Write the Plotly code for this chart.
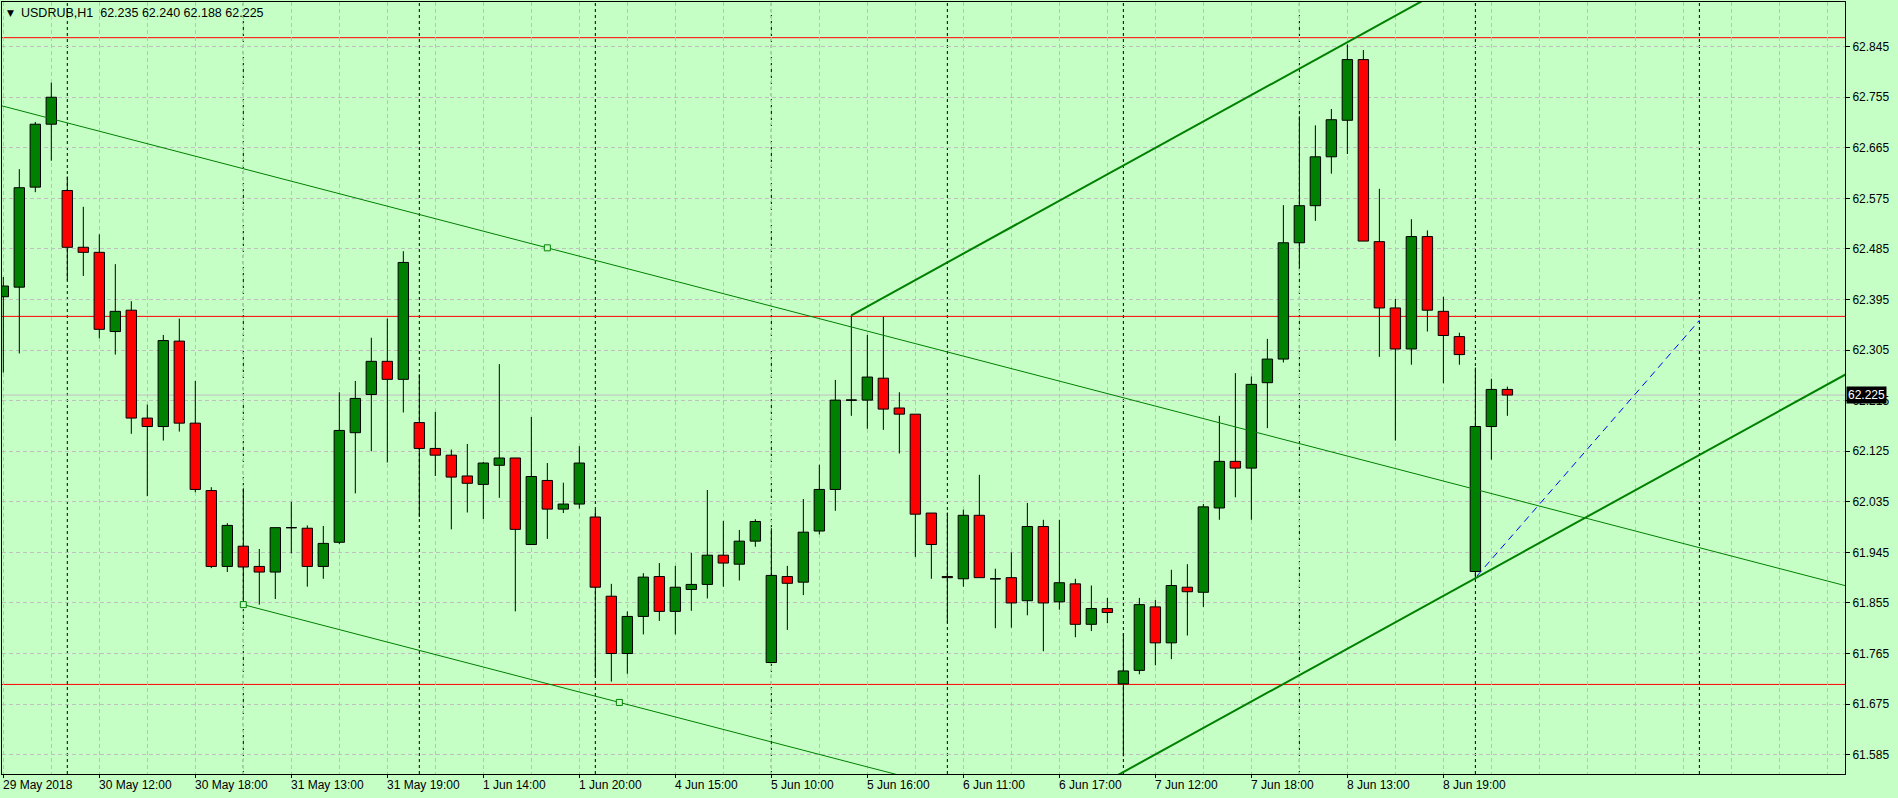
import plotly.graph_objects as go

# ---------------- data (bar index = trading hour on the chart) ----------------
bars = list(range(95))
opens = [62.400, 62.417, 62.595, 62.707, 62.589, 62.488, 62.479, 62.338, 62.376, 62.184,
         62.169, 62.321, 62.175, 62.055, 61.920, 61.956, 61.920, 61.910, 61.989, 61.988,
         61.920, 61.963, 62.158, 62.226, 62.285, 62.253, 62.176, 62.130, 62.118, 62.081,
         62.066, 62.100, 62.113, 61.959, 62.073, 62.022, 62.031, 62.008, 61.867, 61.765,
         61.831, 61.902, 61.840, 61.879, 61.888, 61.940, 61.924, 61.965, 61.749, 61.902,
         61.892, 61.983, 62.057, 62.216, 62.216, 62.255, 62.202, 62.191, 62.015, 61.902,
         61.898, 62.011, 61.898, 61.900, 61.859, 61.991, 61.857, 61.889, 61.817, 61.845,
         61.711, 61.735, 61.848, 61.784, 61.883, 61.874, 62.024, 62.107, 62.095, 62.247,
         62.289, 62.496, 62.562, 62.649, 62.714, 62.822, 62.498, 62.380, 62.307, 62.507,
         62.374, 62.329, 61.911, 62.169, 62.235]
highs = [62.435, 62.627, 62.711, 62.781, 62.614, 62.560, 62.511, 62.458, 62.392, 62.208,
         62.332, 62.361, 62.250, 62.061, 61.997, 62.059, 61.951, 61.989, 62.035, 61.993,
         61.992, 62.230, 62.250, 62.327, 62.361, 62.481, 62.262, 62.195, 62.128, 62.138,
         62.106, 62.280, 62.113, 62.186, 62.104, 62.069, 62.134, 62.021, 61.889, 61.840,
         61.908, 61.926, 61.921, 61.944, 62.056, 62.001, 61.985, 62.004, 61.988, 61.921,
         62.040, 62.101, 62.252, 62.367, 62.332, 62.364, 62.230, 62.191, 62.015, 62.016,
         62.021, 62.083, 61.916, 61.945, 62.033, 62.003, 62.003, 61.898, 61.886, 61.864,
         61.801, 61.864, 61.860, 61.914, 61.924, 62.031, 62.188, 62.264, 62.258, 62.325,
         62.563, 62.721, 62.705, 62.734, 62.849, 62.839, 62.592, 62.396, 62.538, 62.518,
         62.400, 62.336, 62.274, 62.254, 62.240]
lows = [62.265, 62.299, 62.586, 62.642, 62.429, 62.437, 62.326, 62.297, 62.156, 62.045,
        62.144, 62.160, 62.052, 61.917, 61.910, 61.852, 61.852, 61.862, 61.943, 61.884,
        61.898, 61.960, 62.050, 62.125, 62.105, 62.194, 62.008, 62.081, 61.986, 62.016,
        62.004, 62.042, 61.840, 61.959, 61.969, 62.015, 62.023, 61.724, 61.715, 61.729,
        61.799, 61.823, 61.799, 61.841, 61.863, 61.884, 61.895, 61.955, 61.748, 61.807,
        61.869, 61.977, 62.019, 62.188, 62.165, 62.163, 62.121, 61.937, 61.898, 61.820,
        61.884, 61.900, 61.810, 61.811, 61.833, 61.769, 61.843, 61.794, 61.805, 61.819,
        61.582, 61.728, 61.744, 61.755, 61.797, 61.848, 62.003, 62.043, 62.003, 62.166,
        62.283, 62.450, 62.535, 62.619, 62.654, 62.499, 62.293, 62.144, 62.279, 62.338,
        62.246, 62.279, 61.899, 62.110, 62.188]
closes = [62.419, 62.594, 62.707, 62.755, 62.488, 62.479, 62.342, 62.374, 62.184, 62.169,
          62.322, 62.175, 62.057, 61.920, 61.993, 61.919, 61.910, 61.989, 61.989, 61.920,
          61.961, 62.162, 62.219, 62.285, 62.253, 62.461, 62.130, 62.118, 62.079, 62.068,
          62.104, 62.113, 61.986, 62.080, 62.022, 62.031, 62.104, 61.883, 61.765, 61.831,
          61.901, 61.840, 61.883, 61.888, 61.940, 61.926, 61.965, 62.000, 61.904, 61.890,
          61.981, 62.057, 62.216, 62.216, 62.257, 62.200, 62.191, 62.013, 61.959, 61.900,
          62.011, 61.900, 61.898, 61.855, 61.991, 61.855, 61.891, 61.817, 61.845, 61.838,
          61.734, 61.852, 61.784, 61.886, 61.875, 62.026, 62.107, 62.095, 62.244, 62.289,
          62.496, 62.562, 62.649, 62.715, 62.822, 62.499, 62.380, 62.307, 62.507, 62.376,
          62.331, 62.297, 62.169, 62.235, 62.225]

symbol = "USDRUB,H1"
tick_bars = [0, 6, 12, 18, 24, 30, 36, 42, 48, 54, 60, 66, 72, 78, 84, 90]
tick_labels = ["29 May 2018", "30 May 12:00", "30 May 18:00", "31 May 13:00", "31 May 19:00",
               "1 Jun 14:00", "1 Jun 20:00", "4 Jun 15:00", "5 Jun 10:00", "5 Jun 16:00",
               "6 Jun 11:00", "6 Jun 17:00", "7 Jun 12:00", "7 Jun 18:00", "8 Jun 13:00",
               "8 Jun 19:00"]
separator_bars = [4, 15, 26, 37, 48, 59, 70, 81, 92, 106]
price_ticks = [61.585, 61.675, 61.765, 61.855, 61.945, 62.035, 62.125, 62.215,
               62.305, 62.395, 62.485, 62.575, 62.665, 62.755, 62.845]
red_levels = [62.861, 62.365, 61.710]
bid_price = 62.225

# trend objects: anchor points (bar index, price)
desc_upper_bars = [0, 34]
desc_upper_prices = [62.739, 62.487]
desc_lower_bars = [15, 38.5]
desc_lower_prices = [61.852, 61.678]
asc_upper_bars = [53, 84]
asc_upper_prices = [62.367, 62.853]
asc_lower_anchor_bar = 92
asc_lower_anchor_price = 61.899
blue_bars = [92.1, 106]
blue_prices = [61.903, 62.358]

# ---------------- styles ----------------
BG = "#C6FFC6"
GRID = "#C0C0C0"
BULL = "#008000"
BEAR = "#FF0000"
FONT = "Liberation Sans, Arial, sans-serif"
X_MIN, X_MAX = -0.081, 115.1
Y_MIN, Y_MAX = 61.5506, 62.9245
BODY_W = 0.65

fig = go.Figure()

# candle bodies
base = [min(o, c) for o, c in zip(opens, closes)]
height = [abs(c - o) for o, c in zip(opens, closes)]
colors = [BULL if c >= o else BEAR for o, c in zip(opens, closes)]
fig.add_trace(go.Bar(x=bars, y=height, base=base, width=BODY_W,
                     marker=dict(color=colors, line=dict(color="black", width=1)),
                     hoverinfo="skip", showlegend=False))

# wicks (split above/below the body) and doji dashes
wx, wy = [], []
for k, o, h, l, c in zip(bars, opens, highs, lows, closes):
    top, bot = max(o, c), min(o, c)
    if h > top:
        wx += [k, k, None]; wy += [top, h, None]
    if l < bot:
        wx += [k, k, None]; wy += [l, bot, None]
    if abs(c - o) < 0.0015:
        wx += [k - BODY_W / 2, k + BODY_W / 2, None]; wy += [o, o, None]
fig.add_trace(go.Scatter(x=wx, y=wy, mode="lines", line=dict(color="black", width=1),
                         hoverinfo="skip", showlegend=False))


def ray(bx, py, x0, x1):
    s = (py[1] - py[0]) / (bx[1] - bx[0])
    return [x0, x1], [py[0] + s * (x0 - bx[0]), py[0] + s * (x1 - bx[0])], s


# descending channel (thin)
xs, ys, s_desc = ray(desc_upper_bars, desc_upper_prices, -2, 117)
fig.add_trace(go.Scatter(x=xs, y=ys, mode="lines", line=dict(color=BULL, width=1),
                         hoverinfo="skip", showlegend=False))
xs, ys, _ = ray(desc_lower_bars, desc_lower_prices, desc_lower_bars[0], 70)
fig.add_trace(go.Scatter(x=xs, y=ys, mode="lines", line=dict(color=BULL, width=1),
                         hoverinfo="skip", showlegend=False))
fig.add_trace(go.Scatter(x=[desc_upper_bars[1]] + desc_lower_bars,
                         y=[desc_upper_prices[1]] + desc_lower_prices, mode="markers",
                         marker=dict(symbol="square", size=6, color=BG,
                                     line=dict(color=BULL, width=1)),
                         hoverinfo="skip", showlegend=False))

# ascending channel (thick)
xs, ys, s_asc = ray(asc_upper_bars, asc_upper_prices, asc_upper_bars[0], 117)
fig.add_trace(go.Scatter(x=xs, y=ys, mode="lines", line=dict(color=BULL, width=2),
                         hoverinfo="skip", showlegend=False))
x0 = asc_upper_bars[0]
fig.add_trace(go.Scatter(x=[x0, 117],
                         y=[asc_lower_anchor_price + s_asc * (x0 - asc_lower_anchor_bar),
                            asc_lower_anchor_price + s_asc * (117 - asc_lower_anchor_bar)],
                         mode="lines", line=dict(color=BULL, width=2),
                         hoverinfo="skip", showlegend=False))

# blue dashed projection
fig.add_trace(go.Scatter(x=blue_bars, y=blue_prices, mode="lines",
                         line=dict(color="#0000FF", width=1, dash="7px,5px"),
                         hoverinfo="skip", showlegend=False))

shapes = []
for b in separator_bars:
    shapes.append(dict(type="line", xref="x", yref="paper", x0=b, x1=b, y0=0, y1=1,
                       line=dict(color="black", width=1, dash="3px,3px"), layer="between"))
for lv in red_levels:
    shapes.append(dict(type="line", xref="paper", yref="y", x0=0, x1=1, y0=lv, y1=lv,
                       line=dict(color=BEAR, width=1), layer="between"))
shapes.append(dict(type="line", xref="paper", yref="y", x0=0, x1=1, y0=bid_price, y1=bid_price,
                   line=dict(color="#C0C0C0", width=1), layer="between"))

annotations = []
for b, t in zip(tick_bars, tick_labels):
    annotations.append(dict(x=b, xref="x", y=0, yref="paper", text=t, showarrow=False,
                            xanchor="left", yanchor="top", yshift=-2, xshift=-2,
                            font=dict(family=FONT, size=12, color="black")))
annotations.append(dict(x=0, xref="paper", y=1, yref="paper", text="▼", showarrow=False,
                        xanchor="left", yanchor="top", xshift=3, yshift=-4,
                        font=dict(family="DejaVu Sans", size=9, color="black")))
title_txt = (symbol + "\u00a0\u00a0" + "\u00a0".join(
    f"{v:.3f}" for v in (opens[-1], highs[-1], lows[-1], closes[-1])))
annotations.append(dict(x=0, xref="paper", y=1, yref="paper", text=title_txt, showarrow=False,
                        xanchor="left", yanchor="top", xshift=17, yshift=-2,
                        font=dict(family=FONT, size=12.5, color="black")))
annotations.append(dict(x=1, xref="paper", y=bid_price, yref="y", text=f"{bid_price:.3f}",
                        showarrow=False, xanchor="left", yanchor="middle", xshift=1,
                        bgcolor="black", borderpad=1,
                        font=dict(family=FONT, size=12, color="white")))

fig.update_layout(
    width=1898, height=798,
    margin=dict(l=2, r=53, t=2, b=24),
    paper_bgcolor=BG, plot_bgcolor=BG,
    showlegend=False, hovermode=False,
    shapes=shapes, annotations=annotations,
    xaxis=dict(range=[X_MIN, X_MAX], tickmode="array", tickvals=tick_bars,
               showticklabels=False, ticks="outside", ticklen=3, tickcolor="black",
               showgrid=True, gridcolor=GRID, griddash="4px,3px", gridwidth=1,
               minor=dict(tickmode="linear", tick0=0, dtick=3, showgrid=True,
                          gridcolor=GRID, griddash="4px,3px", ticklen=0),
               showline=True, linecolor="black", linewidth=1, mirror=True,
               zeroline=False, fixedrange=True),
    yaxis=dict(range=[Y_MIN, Y_MAX], side="right", tickmode="array", tickvals=price_ticks,
               ticktext=[f"{v:.3f}" for v in price_ticks],
               ticks="outside", ticklen=4, tickcolor="black",
               tickfont=dict(family=FONT, size=12, color="black"),
               showgrid=True, gridcolor=GRID, griddash="4px,3px", gridwidth=1,
               showline=True, linecolor="black", linewidth=1, mirror=True,
               zeroline=False, fixedrange=True),
)

fig.write_html("out.html", config={"displayModeBar": False},
               post_script="document.body.style.margin='0px';document.body.style.overflow='hidden';")
